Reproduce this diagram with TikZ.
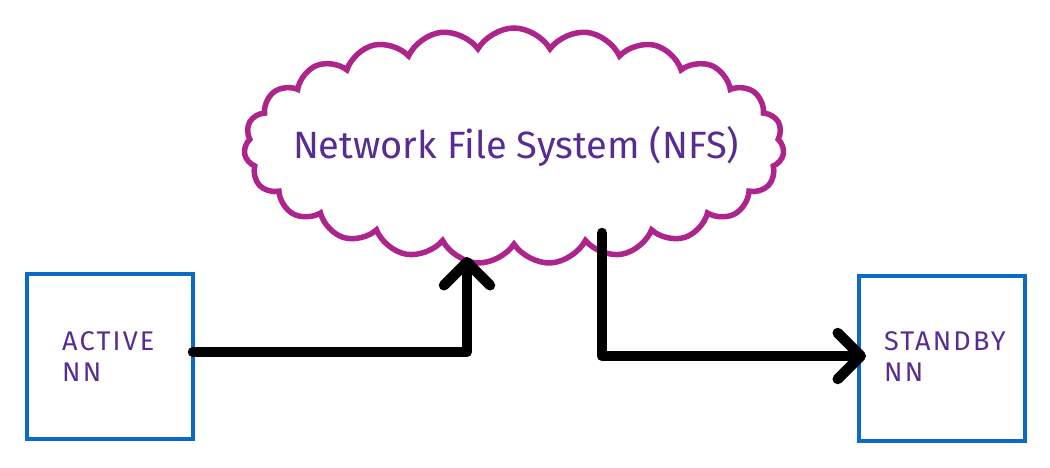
\documentclass[tikz,border=0pt]{standalone}
\usepackage{fontspec}
\setmainfont{Fira Sans}
\newfontfamily\hand[LetterSpace=8]{Fira Sans}
\usetikzlibrary{shapes.symbols, arrows.meta}
\definecolor{cloudmag}{RGB}{172,36,140}
\definecolor{txtpurple}{RGB}{88,44,146}
\definecolor{boxblue}{RGB}{10,106,196}
\tikzset{
  nnbox/.style={draw=boxblue, line width=4pt, minimum width=166pt, minimum height=165pt, inner sep=0pt},
  nnlabel/.style={anchor=north west, align=left, text=txtpurple, inner sep=0pt, font=\hand\fontsize{27}{31}\selectfont},
  flow/.style={draw=black, line width=10.5pt, line cap=round, line join=round,
    -{Straight Barb[length=23pt, width=46pt, line cap=round, line join=round]}}
}
\begin{document}
\begin{tikzpicture}[x=1pt,y=-1pt]
\useasboundingbox (0,0) rectangle (1050,468);
\node[cloud, cloud puffs=23, cloud puff arc=120, aspect=2.5, draw=cloudmag, line width=5.5pt,
      minimum width=540pt, minimum height=236pt, inner sep=0pt] (nfs) at (514,146) {};
\node[text=txtpurple, inner sep=0pt, font=\fontsize{38}{44}\selectfont] (nfstxt) at (516,146) {Network File System (NFS)};
\node[nnbox] (act) at (110,356.5) {};
\node[nnbox] (stb) at (941.5,358) {};
\node[nnlabel] (acttxt) at (62,331) {ACTIVE\\NN};
\node[nnlabel] (stbtxt) at (884,331) {STANDBY\\NN};
\coordinate (a1s) at (193,352);
\coordinate (a1t) at (467,257);
\coordinate (a2s) at (602,233);
\coordinate (a2t) at (866,356);
\draw[flow] (a1s) -| (a1t);
\draw[flow] (a2s) |- (a2t);
\end{tikzpicture}
\end{document}
